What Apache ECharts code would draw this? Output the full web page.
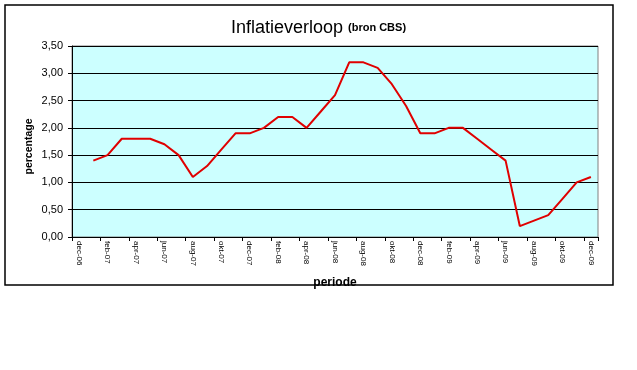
<!DOCTYPE html>
<html>
<head>
<meta charset="utf-8">
<script src="https://cdn.jsdelivr.net/npm/echarts@6/dist/echarts.min.js"></script>
<style>
html,body{margin:0;padding:0;background:#fff;}
#c{width:637px;height:370px;}
</style>
</head>
<body>
<div id="c"></div>
<script>
var months = ['dec-06','jan-07','feb-07','mrt-07','apr-07','mei-07','jun-07','jul-07','aug-07','sep-07','okt-07','nov-07',
  'dec-07','jan-08','feb-08','mrt-08','apr-08','mei-08','jun-08','jul-08','aug-08','sep-08','okt-08','nov-08',
  'dec-08','jan-09','feb-09','mrt-09','apr-09','mei-09','jun-09','jul-09','aug-09','sep-09','okt-09','nov-09','dec-09'];
var inflatie = [null,1.4,1.5,1.8,1.8,1.8,1.7,1.5,1.1,1.3,1.6,1.9,
  1.9,2.0,2.2,2.2,2.0,2.3,2.6,3.2,3.2,3.1,2.8,2.4,
  1.9,1.9,2.0,2.0,1.8,1.6,1.4,0.2,0.3,0.4,0.7,1.0,1.1];
var titleText = 'Inflatieverloop';
var titleSub = '(bron CBS)';
var yName = 'percentage';
var xName = 'periode';

var chart = echarts.init(document.getElementById('c'), null, {renderer:'canvas'});
chart.setOption({
  animation: false,
  backgroundColor: '#ffffff',
  title: {
    text: '{a|' + titleText + '} {b|' + titleSub + '}',
    left: 'center',
    top: 14,
    textStyle: {
      fontWeight: 'normal',
      rich: {
        a: {fontFamily: 'Liberation Sans, Arial', fontSize: 18, fontWeight: 'normal', color: '#000'},
        b: {fontFamily: 'Liberation Sans, Arial', fontSize: 11, fontWeight: 'bold', color: '#000'}
      }
    }
  },
  graphic: [{
    type: 'rect',
    shape: {x: 5, y: 5, width: 608, height: 280},
    style: {fill: 'none', stroke: '#000', lineWidth: 1.5},
    silent: true
  }],
  grid: {
    left: 72, right: 39, top: 46, bottom: 133,
    show: true, backgroundColor: '#CCFFFF', borderColor: '#808080', borderWidth: 1
  },
  xAxis: {
    type: 'category',
    data: months,
    boundaryGap: true,
    name: xName,
    nameLocation: 'middle',
    nameGap: 40,
    nameMoveOverlap: false,
    nameTextStyle: {fontFamily: 'Liberation Sans, Arial', fontSize: 12, fontWeight: 'bold', color: '#000'},
    axisLine: {lineStyle: {color: '#000', width: 1}},
    axisTick: {show: true, interval: 1, length: 4, inside: false, lineStyle: {color: '#000'}},
    axisLabel: {interval: 1, rotate: -90, fontFamily: 'Liberation Sans, Arial', fontSize: 8, color: '#000', margin: 4},
    splitLine: {show: false}
  },
  yAxis: {
    type: 'value',
    min: 0, max: 3.5, interval: 0.5,
    name: yName,
    nameLocation: 'middle',
    nameGap: 37,
    nameMoveOverlap: false,
    nameRotate: 90,
    nameTextStyle: {fontFamily: 'Liberation Sans, Arial', fontSize: 10.5, fontWeight: 'bold', color: '#000', padding: [0, 10, 0, 0]},
    axisLine: {show: true, lineStyle: {color: '#000', width: 1}},
    axisTick: {show: true, length: 4, lineStyle: {color: '#000'}},
    axisLabel: {
      formatter: function(v){ return v.toFixed(2).replace('.', ','); },
      fontFamily: 'Liberation Sans, Arial', fontSize: 11, color: '#000', margin: 9
    },
    splitLine: {show: true, lineStyle: {color: '#000', width: 1}}
  },
  series: [{
    type: 'line',
    data: inflatie,
    showSymbol: false,
    symbol: 'none',
    connectNulls: false,
    lineStyle: {color: '#E00000', width: 2},
    itemStyle: {color: '#E00000'}
  }]
});
</script>
</body>
</html>
